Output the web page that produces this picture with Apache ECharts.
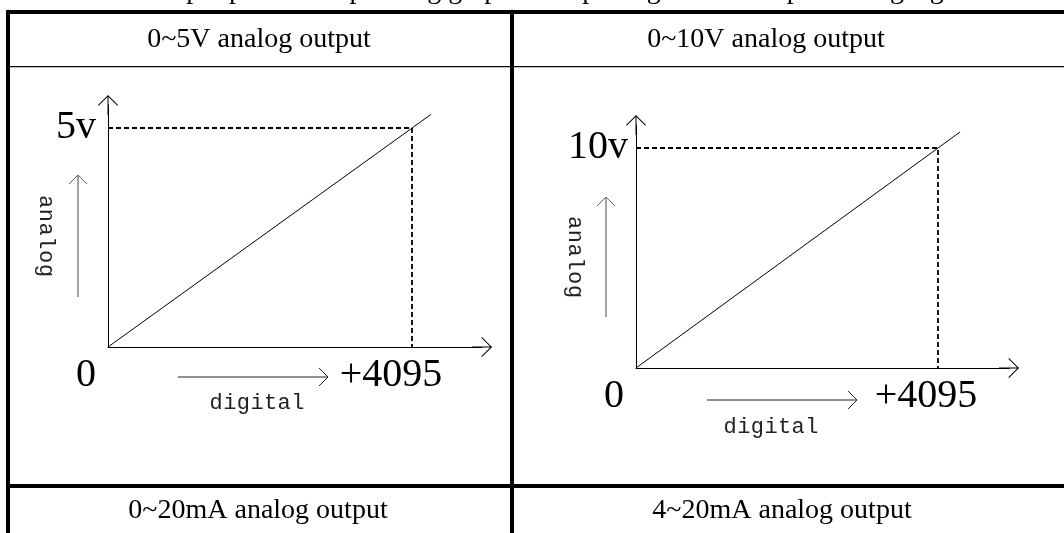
<!DOCTYPE html>
<html><head><meta charset="utf-8">
<script src="https://cdn.jsdelivr.net/npm/echarts@6/dist/echarts.min.js"></script>
<style>html,body{margin:0;padding:0;background:#fff}#c{width:1064px;height:533px}</style>
</head><body><div id="c"></div><script>
// ---- data ----
const headers = ['0~5V analog output', '0~10V analog output', '0~20mA analog output', '4~20mA analog output'];
const introText = 'The output port corresponding graphs of input digital and output analog signals are as below:';
const fullScale = 4095;
const xTickLabels = ['0', '+4095'];
const yTickLabelsLeft = ['5v'];
const yTickLabelsRight = ['10v'];
const fullLeft = 5;
const fullRight = 10;
const lineLeft = [[0, 0], [4350, 5.31]];
const lineRight = [[0, 0], [4395, 10.73]];
const guideLeft = [[0, 5], [4095, 5], [4095, 0]];
const guideRight = [[0, 10], [4095, 10], [4095, 0]];
const nameX = 'digital';
const nameY = 'analog';

// ---- drawing ----
const chart = echarts.init(document.getElementById('c'));
const arrowPath = 'path://M0,0 L10,10 L9.3,10.7 L0,1.4 L-9.3,10.7 L-10,10 Z M-0.5,0 L0.5,0 L0.5,20 L-0.5,20 Z';
const serif = 'Liberation Serif';
const mono = 'Liberation Mono';

function xAxisCfg(gi, max, shift0, shift1) {
  return {
    type: 'value', gridIndex: gi, min: 0, max: max, interval: fullScale,
    axisLine: { show: true, symbol: ['none', arrowPath], symbolSize: [20, 20], lineStyle: { color: '#000', width: 1 } },
    axisTick: { show: false }, splitLine: { show: false },
    axisLabel: {
      margin: 8, fontFamily: serif, fontSize: 40, color: '#000',
      formatter: v => v === 0 ? '{z|' + xTickLabels[0] + '}' : (v === fullScale ? '{f|' + xTickLabels[1] + '}' : ''),
      rich: {
        z: { fontFamily: serif, fontSize: 40, color: '#000', padding: [0, shift0 * 2, 0, 0] },
        f: { fontFamily: serif, fontSize: 40, color: '#000', padding: [0, shift1 * 2, 0, 0] }
      }
    }
  };
}
function yAxisCfg(gi, max, full, label, margin) {
  return {
    type: 'value', gridIndex: gi, min: 0, max: max, interval: full,
    axisLine: { show: true, symbol: ['none', arrowPath], symbolSize: [20, 20], lineStyle: { color: '#000', width: 1 } },
    axisTick: { show: false }, splitLine: { show: false },
    axisLabel: { margin: margin, fontFamily: serif, fontSize: 40, color: '#000',
      formatter: v => v === full ? label : '' }
  };
}

function chevronRight(x, y, color) {
  return { type: 'polyline', shape: { points: [[x - 9, y - 9], [x, y], [x - 9, y + 9]] }, style: { stroke: color, lineWidth: 1, fill: null } };
}
function chevronUp(x, y, color) {
  return { type: 'polyline', shape: { points: [[x - 9, y + 9], [x, y], [x + 9, y + 9]] }, style: { stroke: color, lineWidth: 1, fill: null } };
}
function spacedText(str, cx, cy, step, rot) {
  const children = [];
  const n = str.length;
  for (let i = 0; i < n; i++) {
    children.push({ type: 'text', x: (i - (n - 1) / 2) * step, y: 0,
      style: { text: str[i], font: '22px "' + mono + '"', fill: '#222', align: 'center', verticalAlign: 'middle' } });
  }
  return { type: 'group', x: cx, y: cy, rotation: rot || 0, children: children };
}
function annotations(o) {
  return [
    { type: 'line', shape: { x1: o.ax, y1: o.ay0, x2: o.ax, y2: o.ay1 }, style: { stroke: '#666', lineWidth: 1.2 } },
    chevronUp(o.ax, o.ay1, '#666'),
    spacedText(nameY, o.tx, o.ty, 13.8, -Math.PI / 2),
    { type: 'line', shape: { x1: o.dx0, y1: o.dy, x2: o.dx1, y2: o.dy }, style: { stroke: '#222', lineWidth: 1 } },
    chevronRight(o.dx1, o.dy, '#222'),
    spacedText(nameX, o.dtx, o.dty, 13.6, 0)
  ];
}

const graphics = [
  { type: 'text', x: 100, y: -9, style: { text: introText, font: '28px "' + serif + '"', fill: '#000', verticalAlign: 'middle' } },
  { type: 'rect', shape: { x: 6, y: 10, width: 1058, height: 4 }, style: { fill: '#000' } },
  { type: 'rect', shape: { x: 6, y: 10, width: 4, height: 523 }, style: { fill: '#000' } },
  { type: 'rect', shape: { x: 510, y: 10, width: 4, height: 523 }, style: { fill: '#000' } },
  { type: 'rect', shape: { x: 10, y: 66, width: 1054, height: 1.3 }, style: { fill: '#000' } },
  { type: 'rect', shape: { x: 6, y: 484, width: 1058, height: 4 }, style: { fill: '#000' } },
  { type: 'text', x: 259, y: 40, style: { text: headers[0], font: '28px "' + serif + '"', fill: '#000', align: 'center', verticalAlign: 'middle' } },
  { type: 'text', x: 766, y: 40, style: { text: headers[1], font: '28px "' + serif + '"', fill: '#000', align: 'center', verticalAlign: 'middle' } },
  { type: 'text', x: 258, y: 511, style: { text: headers[2], font: '28px "' + serif + '"', fill: '#000', align: 'center', verticalAlign: 'middle' } },
  { type: 'text', x: 782, y: 511, style: { text: headers[3], font: '28px "' + serif + '"', fill: '#000', align: 'center', verticalAlign: 'middle' } }
].concat(
  annotations({ ax: 78, ay0: 297, ay1: 175, tx: 46, ty: 236, dx0: 178, dx1: 328, dy: 377, dtx: 257, dty: 403 }),
  annotations({ ax: 606, ay0: 317, ay1: 197, tx: 575, ty: 257, dx0: 707, dx1: 857, dy: 400, dtx: 771, dty: 427 })
);

chart.setOption({
  backgroundColor: '#fff',
  animation: false,
  grid: [
    { left: 108, right: 1064 - 482, top: 105, bottom: 533 - 347 },
    { left: 636, right: 1064 - 1009, top: 125, bottom: 533 - 368 }
  ],
  xAxis: [xAxisCfg(0, 5038, 22, 21), xAxisCfg(1, 5058, 22, 12)],
  yAxis: [yAxisCfg(0, 5.525, fullLeft, yTickLabelsLeft[0], 12), yAxisCfg(1, 11.045, fullRight, yTickLabelsRight[0], 8)],
  series: [
    { type: 'line', xAxisIndex: 0, yAxisIndex: 0, data: lineLeft, symbol: 'none', lineStyle: { color: '#000', width: 1 } },
    { type: 'line', xAxisIndex: 0, yAxisIndex: 0, data: guideLeft, symbol: 'none', lineStyle: { color: '#000', width: 1.8, type: [5, 3] } },
    { type: 'line', xAxisIndex: 1, yAxisIndex: 1, data: lineRight, symbol: 'none', lineStyle: { color: '#000', width: 1 } },
    { type: 'line', xAxisIndex: 1, yAxisIndex: 1, data: guideRight, symbol: 'none', lineStyle: { color: '#000', width: 1.8, type: [5, 3] } }
  ],
  graphic: graphics
});
</script></body></html>
